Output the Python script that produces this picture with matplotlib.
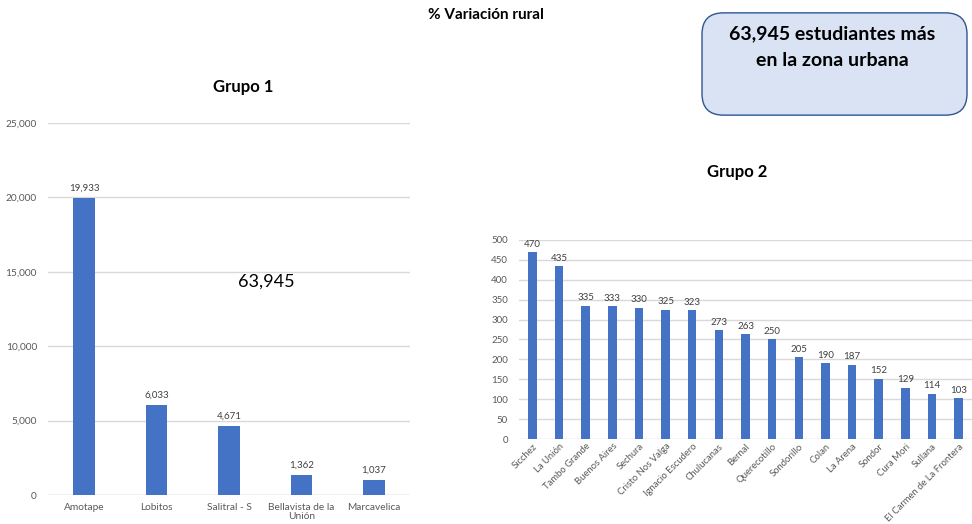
import matplotlib
matplotlib.use("Agg")
import matplotlib.pyplot as plt
from matplotlib.patches import FancyBboxPatch

plt.rcParams['font.family'] = ['Lato', 'DejaVu Sans']

g1_labels = ["Amotape", "Lobitos", "Salitral - S", "Bellavista de la\nUnión", "Marcavelica"]
g1_values = [19933, 6033, 4671, 1362, 1037]
g1_yticks = [0, 5000, 10000, 15000, 20000, 25000]

g2_labels = ["Sicchez", "La Unión", "Tambo Grande", "Buenos Aires", "Sechura",
             "Cristo Nos Valga", "Ignacio Escudero", "Chulucanas", "Bernal",
             "Querecotillo", "Sondorillo", "Colan", "La Arena", "Sondor",
             "Cura Mori", "Sullana", "El Carmen de La Frontera"]
g2_values = [470, 435, 335, 333, 330, 325, 323, 273, 263, 250, 205, 190, 187, 152, 129, 114, 103]
g2_yticks = list(range(0, 501, 50))

bar_color = "#4472C4"
grid_color = "#d9d9d9"
tick_color = "#595959"

fig = plt.figure(figsize=(9.72, 5.24), dpi=100)

# Group 1
ax1 = fig.add_axes([0.0494, 0.0553, 0.3724, 0.710])
x1 = range(len(g1_values))
ax1.bar(x1, g1_values, width=0.3, color=bar_color, zorder=3)
ax1.set_xlim(-0.5, len(g1_values) - 0.5)
ax1.set_ylim(0, 25000)
ax1.set_yticks(g1_yticks)
ax1.set_yticklabels([f"{v:,}" for v in g1_yticks])
ax1.set_xticks(list(x1))
ax1.set_xticklabels(g1_labels, linespacing=0.95)
ax1.grid(axis='y', color=grid_color, linewidth=1, zorder=0)
for s in ax1.spines.values():
    s.set_visible(False)
ax1.tick_params(axis='both', length=0, labelsize=7.3, colors=tick_color, pad=6)
ax1.tick_params(axis='y', pad=8)
for xi, v in zip(x1, g1_values):
    ax1.text(xi, v + 350, f"{v:,}", ha='center', va='bottom', fontsize=7, color="#404040")
ax1.axhline(0, color=grid_color, linewidth=1, zorder=2)

fig.text(243 / 972, 1 - 87 / 524, "Grupo 1", ha='center', va='center', fontsize=12, fontweight='bold')
fig.text(266 / 972, 1 - 282 / 524, "63,945", ha='center', va='center', fontsize=13)
fig.text(486 / 972, 1 - 15 / 524, "% Variación rural", ha='center', va='center', fontsize=11, fontweight='bold')

# Group 2
ax2 = fig.add_axes([0.534, 0.1622, 0.466, 0.3798])
x2 = range(len(g2_values))
ax2.bar(x2, g2_values, width=0.32, color=bar_color, zorder=3)
ax2.set_xlim(-0.5, len(g2_values) - 0.5)
ax2.set_ylim(0, 500)
ax2.set_yticks(g2_yticks)
ax2.set_xticks(list(x2))
ax2.set_xticklabels(g2_labels, rotation=45, ha='right', rotation_mode='anchor')
ax2.grid(axis='y', color=grid_color, linewidth=1, zorder=0)
for s in ax2.spines.values():
    s.set_visible(False)
ax2.tick_params(axis='both', length=0, labelsize=7, colors=tick_color)
ax2.tick_params(axis='y', pad=8)
ax2.tick_params(axis='x', pad=2, labelsize=6.8)
for lbl in ax2.get_xticklabels():
    lbl.set_x(lbl.get_position()[0])
for xi, v in zip(x2, g2_values):
    ax2.text(xi, v + 8, f"{v}", ha='center', va='bottom', fontsize=7, color="#404040")

fig.text(737 / 972, 1 - 172 / 524, "Grupo 2", ha='center', va='center', fontsize=12, fontweight='bold')

# Callout box
bx0, by0, bx1, by1 = 702 / 972, 1 - 115 / 524, 967 / 972, 1 - 13 / 524
box = FancyBboxPatch((bx0 + 0.012, by0 + 0.022), (bx1 - bx0) - 0.024, (by1 - by0) - 0.044,
                     boxstyle="round,pad=0.012,rounding_size=0.022",
                     transform=fig.transFigure, facecolor="#dae3f3", edgecolor="#2f5597",
                     linewidth=1, mutation_aspect=972 / 524)
fig.patches.append(box)
fig.text(832 / 972, 1 - 34 / 524, "63,945 estudiantes más", ha='center', va='center',
         fontsize=14, fontweight='bold')
fig.text(832 / 972, 1 - 60 / 524, "en la zona urbana", ha='center', va='center',
         fontsize=14, fontweight='bold')

fig.savefig("out.png", dpi=100)
